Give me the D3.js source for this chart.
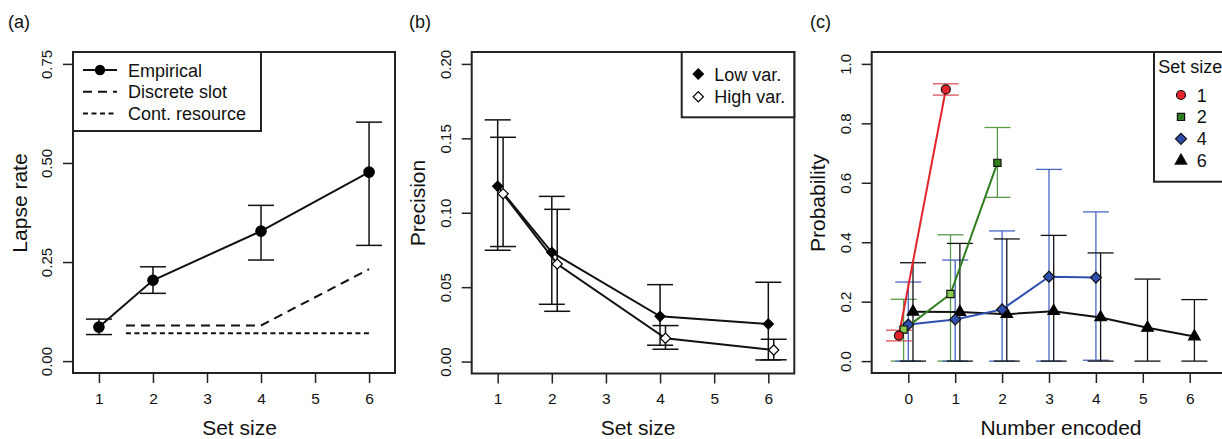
<!DOCTYPE html>
<html>
<head>
<meta charset="utf-8">
<script src="https://cdnjs.cloudflare.com/ajax/libs/d3/7.8.5/d3.min.js"></script>
<style>
  body { margin: 0; background: #fff; }
  svg text { font-family: "Liberation Sans", Arial, Helvetica, sans-serif; fill: #111; }
</style>
</head>
<body>
<div id="chart"></div>
<script>
// ---- panel (a): lapse rate
var setSizes = [1, 2, 4, 6];
var lapseMean = [0.086, 0.204, 0.328, 0.477];
var lapseLo = [0.067, 0.171, 0.255, 0.292];
var lapseHi = [0.106, 0.238, 0.393, 0.603];
var slotX = [1.5, 4, 6];
var slotY = [0.09, 0.09, 0.232];
var resourceX = [1.5, 6];
var resourceY = [0.07, 0.07];

// ---- panel (b): precision
var lowVarMean = [0.1178, 0.0734, 0.0304, 0.0253];
var lowVarLo = [0.0748, 0.0385, 0.011, 0.0011];
var lowVarHi = [0.1624, 0.111, 0.0517, 0.0533];
var highVarMean = [0.1127, 0.0656, 0.0157, 0.0078];
var highVarLo = [0.0773, 0.0338, 0.0083, 0.0012];
var highVarHi = [0.1507, 0.1023, 0.0242, 0.015];

// ---- panel (c): probability of number encoded
var encoded = [0, 1, 2, 3, 4, 5, 6];
var ss1Mean = [0.086, 0.914];
var ss1Lo = [0.068, 0.895];
var ss1Hi = [0.104, 0.933];
var ss2Mean = [0.106, 0.226, 0.667];
var ss2Lo = [0, 0, 0.551];
var ss2Hi = [0.208, 0.425, 0.786];
var ss4Mean = [0.123, 0.14, 0.174, 0.284, 0.281];
var ss4Lo = [0, 0, 0, 0, 0.003];
var ss4Hi = [0.266, 0.34, 0.438, 0.645, 0.502];
var ss6Mean = [0.166, 0.165, 0.158, 0.168, 0.147, 0.112, 0.083];
var ss6Lo = [0, 0, 0, 0, 0, 0, 0];
var ss6Hi = [0.331, 0.396, 0.411, 0.423, 0.364, 0.276, 0.207];

var xTicks16 = [1, 2, 3, 4, 5, 6];
var yTicksA = [0, 0.25, 0.5, 0.75];
var yTicksB = [0, 0.05, 0.1, 0.15, 0.2];
var yTicksC = [0, 0.2, 0.4, 0.6, 0.8, 1.0];

var W = 1222, H = 439;
var svg = d3.select('#chart').append('svg').attr('width', W).attr('height', H);

// draws box, ticks, tick labels and axis titles for one panel
function frame(x, y, xTicks, yTicks, yFmt, xTitle, yTitle, xTitleShift, yTitleX) {
  var g = svg.append('g');
  var x0 = x.range()[0], x1 = x.range()[1];
  var y0 = y.range()[0], y1 = y.range()[1];

  var ax = g.append('g').attr('transform', 'translate(0,' + y0 + ')')
    .call(d3.axisBottom(x).tickValues(xTicks).tickFormat(d3.format('d')).tickSize(10).tickSizeOuter(0));
  ax.select('.domain').remove();
  ax.selectAll('line').attr('stroke', '#222').attr('stroke-width', 1.5);
  ax.selectAll('text').attr('y', 30.5).attr('dy', 0).style('font-size', '15.5px');

  var ay = g.append('g').attr('transform', 'translate(' + x0 + ',0)')
    .call(d3.axisLeft(y).tickValues(yTicks).tickFormat(d3.format(yFmt)).tickSize(10).tickSizeOuter(0));
  ay.select('.domain').remove();
  ay.selectAll('line').attr('stroke', '#222').attr('stroke-width', 1.5);
  ay.selectAll('text').attr('x', 0).attr('y', -21).attr('dy', 0)
    .attr('text-anchor', 'middle').attr('transform', 'rotate(-90)').style('font-size', '15px');

  g.append('rect').attr('x', x0).attr('y', y1).attr('width', x1 - x0).attr('height', y0 - y1)
    .attr('fill', 'none').attr('stroke', '#222').attr('stroke-width', 2);

  g.append('text').attr('x', (x0 + x1) / 2 + xTitleShift).attr('y', 434.5)
    .attr('text-anchor', 'middle').style('font-size', '21px').text(xTitle);
  g.append('text').attr('transform', 'translate(' + yTitleX + ',203) rotate(-90)')
    .attr('text-anchor', 'middle').style('font-size', '21px').text(yTitle);
  return g;
}

function errorBars(g, x, y, xs, lo, hi, color, width) {
  xs.forEach(function (xv, i) {
    var cx = x(xv);
    g.append('line').attr('x1', cx).attr('x2', cx).attr('y1', y(lo[i])).attr('y2', y(hi[i]))
      .attr('stroke', color).attr('stroke-width', width);
    [lo[i], hi[i]].forEach(function (v) {
      g.append('line').attr('x1', cx - 13).attr('x2', cx + 13).attr('y1', y(v)).attr('y2', y(v))
        .attr('stroke', color).attr('stroke-width', width);
    });
  });
}

function seriesLine(g, x, y, xs, ys, color, width, dash) {
  var pts = xs.map(function (d, i) { return [d, ys[i]]; });
  g.append('path').datum(pts)
    .attr('d', d3.line().x(function (d) { return x(d[0]); }).y(function (d) { return y(d[1]); }))
    .attr('fill', 'none').attr('stroke', color).attr('stroke-width', width)
    .attr('stroke-dasharray', dash || null);
}

function marks(g, x, y, xs, ys, type, size, fill, stroke, rot) {
  var sym = d3.symbol().type(type).size(size);
  xs.forEach(function (xv, i) {
    g.append('path').attr('d', sym())
      .attr('transform', 'translate(' + x(xv) + ',' + y(ys[i]) + ')' + (rot ? ' rotate(45)' : ''))
      .attr('fill', Array.isArray(fill) ? fill[i] : fill)
      .attr('stroke', stroke).attr('stroke-width', 1.2);
  });
}

function shift(arr, dx) { return arr.map(function (d) { return d + dx; }); }

function panelLabel(txt, px) {
  svg.append('text').attr('x', px).attr('y', 27.5).style('font-size', '18px').text(txt);
}

// ================= (a)
var xa = d3.scaleLinear().domain([0.52, 6.48]).range([73, 395]);
var ya = d3.scaleLinear().domain([-0.03, 0.78]).range([373, 52]);
var ga = frame(xa, ya, xTicks16, yTicksA, '.2f', 'Set size', 'Lapse rate', 5.5, 26.5);
panelLabel('(a)', 8);
seriesLine(ga, xa, ya, slotX, slotY, '#111', 2, '9,6');
seriesLine(ga, xa, ya, resourceX, resourceY, '#111', 2, '5,3.5');
errorBars(ga, xa, ya, setSizes, lapseLo, lapseHi, '#111', 1.5);
seriesLine(ga, xa, ya, setSizes, lapseMean, '#111', 2);
marks(ga, xa, ya, setSizes, lapseMean, d3.symbolCircle, Math.PI * 5.2 * 5.2, '#000', '#000');

// legend (a)
var la = ga.append('g');
la.append('rect').attr('x', 73).attr('y', 52).attr('width', 188).attr('height', 79)
  .attr('fill', '#fff').attr('stroke', '#222').attr('stroke-width', 2);
var legA = ['Empirical', 'Discrete slot', 'Cont. resource'];
var legADash = [null, '9,6', '5,3.5'];
legA.forEach(function (t, i) {
  var cy = 70 + i * 21.7;
  la.append('line').attr('x1', 83).attr('x2', 117).attr('y1', cy).attr('y2', cy)
    .attr('stroke', '#111').attr('stroke-width', 2).attr('stroke-dasharray', legADash[i]);
  if (i === 0) la.append('circle').attr('cx', 100).attr('cy', cy).attr('r', 5.2).attr('fill', '#000');
  la.append('text').attr('x', 128).attr('y', cy + 6.5).style('font-size', '18px').text(t);
});

// ================= (b)
var xb = d3.scaleLinear().domain([0.52, 6.48]).range([471.7, 794.3]);
var yb = d3.scaleLinear().domain([-0.008, 0.208]).range([373.5, 52]);
var gb = frame(xb, yb, xTicks16, yTicksB, '.2f', 'Set size', 'Precision', 5, 425);
panelLabel('(b)', 409);
var highX = shift(setSizes, 0.1);
errorBars(gb, xb, yb, setSizes, lowVarLo, lowVarHi, '#111', 1.5);
errorBars(gb, xb, yb, highX, highVarLo, highVarHi, '#111', 1.5);
seriesLine(gb, xb, yb, setSizes, lowVarMean, '#111', 2);
seriesLine(gb, xb, yb, highX, highVarMean, '#111', 2);
marks(gb, xb, yb, setSizes, lowVarMean, d3.symbolSquare, 52, '#000', '#000', true);
marks(gb, xb, yb, highX, highVarMean, d3.symbolSquare, 52, '#fff', '#000', true);

// legend (b)
var lb = gb.append('g');
lb.append('rect').attr('x', 681.7).attr('y', 52).attr('width', 112.6).attr('height', 65.3)
  .attr('fill', '#fff').attr('stroke', '#222').attr('stroke-width', 2);
[['Low var.', '#000'], ['High var.', '#fff']].forEach(function (e, i) {
  var cy = 74 + i * 22.7;
  lb.append('path').attr('d', d3.symbol().type(d3.symbolSquare).size(52)())
    .attr('transform', 'translate(698.3,' + cy + ') rotate(45)')
    .attr('fill', e[1]).attr('stroke', '#000').attr('stroke-width', 1.2);
  lb.append('text').attr('x', 714.3).attr('y', cy + 6.5).style('font-size', '18px').text(e[0]);
});

// ================= (c)
var xc = d3.scaleLinear().domain([-0.78, 6.78]).range([871.7, 1226.3]);
var yc = d3.scaleLinear().domain([-0.04, 1.04]).range([373, 52]);
var gc = frame(xc, yc, encoded, yTicksC, '.1f', 'Number encoded', 'Probability', 12, 825);
panelLabel('(c)', 810);

var red = '#e3242b', green = '#2f7d1e', lightGreen = '#86cc4e', blue = '#2f4fae';
var x1s = shift(encoded.slice(0, 2), -0.2);
var x2s = shift(encoded.slice(0, 3), -0.1);
var x4s = encoded.slice(0, 5);
var x6s = shift(encoded, 0.1);

errorBars(gc, xc, yc, x1s, ss1Lo, ss1Hi, '#e0505c', 1.3);
errorBars(gc, xc, yc, x2s, ss2Lo, ss2Hi, '#5a9a48', 1.3);
errorBars(gc, xc, yc, x4s, ss4Lo, ss4Hi, '#4a66c2', 1.3);
errorBars(gc, xc, yc, x6s, ss6Lo, ss6Hi, '#111', 1.3);

seriesLine(gc, xc, yc, x6s, ss6Mean, '#111', 2);
seriesLine(gc, xc, yc, x4s, ss4Mean, blue, 2);
seriesLine(gc, xc, yc, x2s, ss2Mean, green, 2);
seriesLine(gc, xc, yc, x1s, ss1Mean, red, 2);

marks(gc, xc, yc, x6s, ss6Mean, d3.symbolTriangle, 58, '#000', '#000');
marks(gc, xc, yc, x4s, ss4Mean, d3.symbolSquare, 60, blue, '#111', true);
marks(gc, xc, yc, x2s, ss2Mean, d3.symbolSquare, 52, [lightGreen, lightGreen, green], '#111');
marks(gc, xc, yc, x1s, ss1Mean, d3.symbolCircle, Math.PI * 4.5 * 4.5, red, '#111');

// legend (c)
var lc = gc.append('g');
lc.append('rect').attr('x', 1154).attr('y', 52).attr('width', 80).attr('height', 129.7)
  .attr('fill', '#fff').attr('stroke', '#222').attr('stroke-width', 2);
lc.append('text').attr('x', 1158.3).attr('y', 73).style('font-size', '18px').text('Set size');
var legC = [
  ['1', d3.symbolCircle, Math.PI * 4.5 * 4.5, red, false],
  ['2', d3.symbolSquare, 52, green, false],
  ['4', d3.symbolSquare, 60, blue, true],
  ['6', d3.symbolTriangle, 58, '#000', false]
];
legC.forEach(function (e, i) {
  var cy = 95 + i * 21.9;
  lc.append('path').attr('d', d3.symbol().type(e[1]).size(e[2])())
    .attr('transform', 'translate(1181,' + cy + ')' + (e[4] ? ' rotate(45)' : ''))
    .attr('fill', e[3]).attr('stroke', '#111').attr('stroke-width', 1.2);
  lc.append('text').attr('x', 1196.7).attr('y', cy + 6.5).style('font-size', '18px').text(e[0]);
});
</script>
</body>
</html>
